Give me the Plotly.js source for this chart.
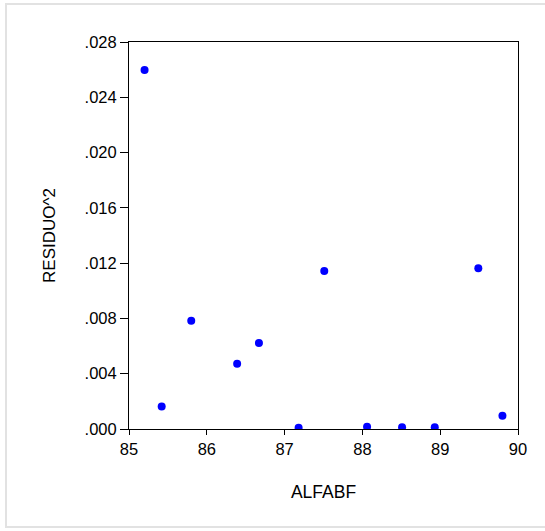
<!DOCTYPE html>
<html>
<head>
<meta charset="utf-8">
<script src="https://cdn.plot.ly/plotly-3.0.1.min.js"></script>
<style>
  html, body { margin: 0; padding: 0; background: #fff; }
  #frame { position: absolute; left: 5px; top: 3px; width: 545px; height: 525px; border: 2px solid #e2e2e2; box-sizing: border-box; }
  #chart { position: absolute; left: 0; top: 0; width: 545px; height: 531px; }
</style>
</head>
<body>
<div id="frame"></div>
<div id="chart"></div>
<script>
// Data
var alfabf = [85.20, 85.42, 85.80, 86.39, 86.67, 87.18, 87.51, 88.06, 88.51, 88.93, 89.49, 89.80];
var residuo2 = [0.02597, 0.00163, 0.00784, 0.00472, 0.00622, 0.00009, 0.01143, 0.00016, 0.00013, 0.00013, 0.01163, 0.00096];

var xTickVals = [85, 86, 87, 88, 89, 90];
var xTickText = ["85", "86", "87", "88", "89", "90"];
var yTickVals = [0, 0.004, 0.008, 0.012, 0.016, 0.020, 0.024, 0.028];
var yTickText = [".000", ".004", ".008", ".012", ".016", ".020", ".024", ".028"];

var fontFam = "Liberation Sans, Arial, sans-serif";

var trace = {
  x: alfabf,
  y: residuo2,
  type: "scatter",
  mode: "markers",
  marker: { color: "#0000ff", size: 8 },
  hoverinfo: "x+y"
};

var layout = {
  width: 545,
  height: 531,
  margin: { l: 129, r: 27, t: 42, b: 102, pad: 0 },
  paper_bgcolor: "rgba(0,0,0,0)",
  plot_bgcolor: "#ffffff",
  showlegend: false,
  font: { family: fontFam, color: "#000000", size: 16 },
  xaxis: {
    range: [85, 90],
    tickmode: "array",
    tickvals: xTickVals,
    ticktext: xTickText,
    ticks: "outside",
    ticklen: 5,
    tickwidth: 1,
    tickcolor: "#000000",
    showline: true,
    linecolor: "#000000",
    linewidth: 1,
    mirror: true,
    showgrid: false,
    zeroline: false,
    tickfont: { family: fontFam, size: 16.5, color: "#000000" },
    title: { text: "ALFABF", font: { family: fontFam, size: 17.5, color: "#000000" }, standoff: 28 }
  },
  yaxis: {
    range: [0, 0.028],
    tickmode: "array",
    tickvals: yTickVals,
    ticktext: yTickText,
    ticks: "outside",
    ticklen: 8,
    tickwidth: 1,
    tickcolor: "#000000",
    showline: true,
    linecolor: "#000000",
    linewidth: 1,
    mirror: true,
    showgrid: false,
    zeroline: false,
    tickfont: { family: fontFam, size: 16.5, color: "#000000" },
    title: { text: "RESIDUO^2", font: { family: fontFam, size: 17, color: "#000000" }, standoff: 24 }
  }
};

Plotly.newPlot("chart", [trace], layout, { displayModeBar: false, staticPlot: true });
</script>
</body>
</html>
